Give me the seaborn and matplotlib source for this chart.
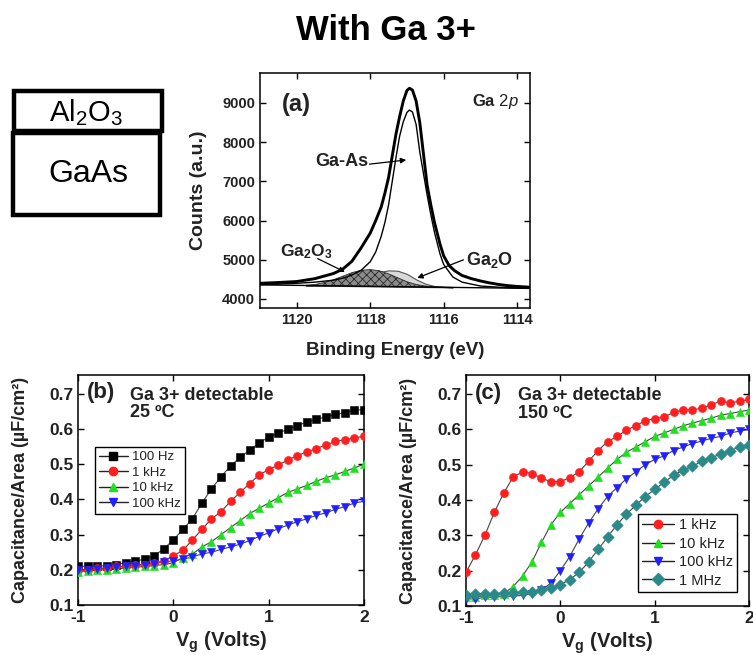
import numpy as np
import pandas as pd
import matplotlib
matplotlib.use("Agg")
import matplotlib.pyplot as plt
from matplotlib.lines import Line2D
from matplotlib.patches import Rectangle
import seaborn as sns

sns.set_style("ticks")
plt.rcParams['font.family'] = ['Liberation Sans', 'DejaVu Sans']
plt.rcParams['mathtext.fontset'] = 'custom'
plt.rcParams['mathtext.rm'] = 'Liberation Sans'
plt.rcParams['mathtext.it'] = 'Liberation Sans:italic'
plt.rcParams['mathtext.bf'] = 'Liberation Sans:bold'
plt.rcParams['hatch.linewidth'] = 0.6

TXT = '#222222'

# ---------------- Panel (a): XPS Ga 2p ----------------
env_E = [1121.0, 1120.5, 1120.0, 1119.5, 1119.0, 1118.75, 1118.5, 1118.25, 1118.0, 1117.85,
         1117.7, 1117.6, 1117.5, 1117.4, 1117.3, 1117.2, 1117.1, 1117.0, 1116.93, 1116.85,
         1116.75, 1116.65, 1116.55, 1116.45, 1116.35, 1116.25, 1116.1, 1116.0, 1115.85, 1115.7,
         1115.5, 1115.25, 1115.0, 1114.75, 1114.5, 1114.25, 1114.0, 1113.65]
env_C = [4400, 4420, 4445, 4520, 4650, 4760, 4960, 5300, 5680, 6000,
         6350, 6700, 7100, 7650, 8200, 8650, 9050, 9320, 9375, 9330,
         9050, 8500, 7700, 6900, 6400, 5950, 5400, 5100, 4850, 4720,
         4600, 4520, 4460, 4410, 4370, 4340, 4320, 4300]

gaas_E = [1121.0, 1120.5, 1120.0, 1119.5, 1119.0, 1118.75, 1118.5, 1118.25, 1118.0, 1117.85,
          1117.7, 1117.6, 1117.5, 1117.4, 1117.3, 1117.2, 1117.1, 1117.0, 1116.93, 1116.85,
          1116.75, 1116.65, 1116.55, 1116.45, 1116.35, 1116.25, 1116.1, 1116.0, 1115.75, 1115.5,
          1115.0, 1114.5, 1114.0, 1113.65]
gaas_C = [4365, 4380, 4400, 4430, 4480, 4530, 4610, 4730, 4950, 5200,
          5600, 5950, 6400, 7000, 7600, 8150, 8520, 8760, 8820, 8770,
          8450, 7750, 7200, 6650, 6150, 5700, 5150, 4880, 4560, 4430,
          4330, 4300, 4285, 4275]

comp_E = [1119.75, 1119.5, 1119.25, 1119.0, 1118.75, 1118.5, 1118.25, 1118.0, 1117.75,
          1117.5, 1117.25, 1117.0, 1116.75, 1116.5, 1116.25, 1116.0, 1115.75]
comp_bg = [4345, 4342, 4339, 4336, 4332, 4329, 4326, 4323, 4320,
           4317, 4314, 4311, 4308, 4305, 4302, 4299, 4296]
ga2o3_C = [4350, 4370, 4420, 4490, 4580, 4670, 4735, 4750, 4720,
           4640, 4540, 4440, 4370, 4330, 4310, 4300, 4296]
ga2o_C = [4345, 4342, 4345, 4360, 4390, 4440, 4520, 4610, 4690,
          4730, 4720, 4640, 4500, 4390, 4330, 4305, 4296]

bg_E = [1121.0, 1113.65]
bg_C = [4360, 4270]

# ---------------- Panels (b), (c): C-V ----------------
vg = [round(-1 + 0.1 * i, 1) for i in range(31)]

b_100Hz = [0.210, 0.210, 0.210, 0.212, 0.215, 0.220, 0.225, 0.230, 0.240, 0.260,
           0.285, 0.315, 0.345, 0.390, 0.430, 0.465, 0.495, 0.520, 0.540, 0.560,
           0.578, 0.588, 0.600, 0.610, 0.620, 0.628, 0.635, 0.642, 0.647, 0.655, 0.655]
b_1kHz = [0.200, 0.200, 0.205, 0.205, 0.210, 0.210, 0.215, 0.215, 0.220, 0.225,
          0.240, 0.255, 0.285, 0.315, 0.345, 0.365, 0.395, 0.420, 0.445, 0.470,
          0.485, 0.498, 0.512, 0.525, 0.535, 0.545, 0.555, 0.565, 0.570, 0.575, 0.580]
b_10kHz = [0.195, 0.198, 0.200, 0.200, 0.203, 0.205, 0.207, 0.210, 0.212, 0.215,
           0.220, 0.235, 0.245, 0.265, 0.280, 0.300, 0.320, 0.340, 0.360, 0.375,
           0.390, 0.405, 0.420, 0.430, 0.440, 0.452, 0.462, 0.470, 0.480, 0.490, 0.500]
b_100kHz = [0.200, 0.200, 0.203, 0.205, 0.207, 0.210, 0.212, 0.215, 0.218, 0.222,
            0.226, 0.230, 0.237, 0.245, 0.250, 0.258, 0.265, 0.273, 0.283, 0.295,
            0.305, 0.317, 0.327, 0.337, 0.345, 0.355, 0.362, 0.372, 0.380, 0.390, 0.395]

c_1kHz = [0.195, 0.245, 0.300, 0.365, 0.420, 0.465, 0.480, 0.475, 0.462, 0.452,
          0.452, 0.463, 0.480, 0.510, 0.540, 0.565, 0.580, 0.598, 0.610, 0.625,
          0.630, 0.635, 0.648, 0.655, 0.655, 0.660, 0.670, 0.680, 0.675, 0.680, 0.685]
c_10kHz = [0.125, 0.125, 0.130, 0.130, 0.135, 0.155, 0.185, 0.225, 0.280, 0.330,
           0.365, 0.390, 0.415, 0.440, 0.465, 0.490, 0.515, 0.535, 0.550, 0.565,
           0.580, 0.590, 0.600, 0.610, 0.618, 0.625, 0.632, 0.640, 0.645, 0.650, 0.655]
c_100kHz = [0.120, 0.120, 0.125, 0.125, 0.127, 0.128, 0.130, 0.135, 0.145, 0.165,
            0.200, 0.240, 0.290, 0.335, 0.375, 0.410, 0.435, 0.460, 0.480, 0.500,
            0.515, 0.525, 0.540, 0.550, 0.560, 0.567, 0.575, 0.580, 0.590, 0.595, 0.600]
c_1MHz = [0.130, 0.133, 0.135, 0.135, 0.137, 0.138, 0.140, 0.140, 0.145, 0.150,
          0.160, 0.175, 0.195, 0.225, 0.260, 0.295, 0.330, 0.360, 0.385, 0.410,
          0.430, 0.450, 0.470, 0.485, 0.495, 0.510, 0.520, 0.530, 0.540, 0.550, 0.555]

b_labels = ['100 Hz', '1 kHz', '10 kHz', '100 kHz']
c_labels = ['1 kHz', '10 kHz', '100 kHz', '1 MHz']
vticks = [-1, 0, 1, 2]
cticks = [0.1, 0.2, 0.3, 0.4, 0.5, 0.6, 0.7]

# ---------------- figure ----------------
W, H = 753, 655
fig = plt.figure(figsize=(W / 100, H / 100), dpi=100)

def px_axes(l, t, r, b):
    return fig.add_axes([l / W, 1 - b / H, (r - l) / W, (b - t) / H])

# overlay for title and layer sketch
ov = fig.add_axes([0, 0, 1, 1])
ov.set_xlim(0, W)
ov.set_ylim(H, 0)
ov.axis('off')
ov.text(386, 30, 'With Ga 3+', ha='center', va='center', fontsize=25, fontweight='bold', color='black')
ov.add_patch(Rectangle((14, 91), 148, 40, fill=False, lw=3.2, ec='black'))
ov.add_patch(Rectangle((13, 133), 147, 82, fill=False, lw=3.2, ec='black'))
ov.text(86, 113, r'Al$_2$O$_3$', ha='center', va='center', fontsize=21, color='black')
ov.text(88, 174, 'GaAs', ha='center', va='center', fontsize=23, color='black')

def style_axes(ax, fs):
    ax.tick_params(direction='in', top=True, right=True, length=4, width=1,
                   labelsize=fs, colors='black', labelcolor=TXT)
    for lab in ax.get_xticklabels() + ax.get_yticklabels():
        lab.set_fontweight('bold')
    for s in ax.spines.values():
        s.set_linewidth(1.1)
        s.set_color('black')
        s.set_visible(True)

# ---- panel (a)
axa = px_axes(260, 73, 530, 308)
axa.fill_between(comp_E, ga2o_C, comp_bg, facecolor='#d9d9d9', edgecolor='#555555', lw=0.8, zorder=2)
axa.fill_between(comp_E, ga2o3_C, comp_bg, facecolor='#8c8c8c', edgecolor='#2a2a2a', hatch='xxxx',
                 lw=0.6, zorder=3)
sns.lineplot(x=bg_E, y=bg_C, ax=axa, color='black', lw=1.0, zorder=4)
sns.lineplot(x=gaas_E, y=gaas_C, ax=axa, color='black', lw=1.0, zorder=5)
sns.lineplot(x=env_E, y=env_C, ax=axa, color='black', lw=2.1, zorder=6)
axa.set_xlim(1121.0, 1113.65)
axa.set_ylim(3770, 9765)
axa.set_xticks([1120, 1118, 1116, 1114])
axa.set_yticks([4000, 5000, 6000, 7000, 8000, 9000])
style_axes(axa, 10.5)
axa.set_xlabel('Binding Energy (eV)', fontsize=13.5, fontweight='bold', color=TXT, labelpad=11)
axa.set_ylabel('Counts (a.u.)', fontsize=14, fontweight='bold', color=TXT, labelpad=11)
axa.text(0.133, 0.868, '(a)', transform=axa.transAxes, fontsize=17, fontweight='bold',
         color=TXT, ha='center', va='center')
axa.text(0.87, 0.877, r'Ga $\mathit{2p}$', transform=axa.transAxes, fontsize=12, fontweight='bold',
         color=TXT, ha='center', va='center')
arrow = dict(arrowstyle='-|>', color='black', lw=0.9, mutation_scale=8, shrinkA=0, shrinkB=0)
# labels
axa.text(1118.04, 7390, 'Ga-As', fontsize=13, fontweight='bold', color=TXT, ha='right',
         va='baseline', zorder=8)
axa.annotate('', xy=(1117.02, 7546), xytext=(1118.02, 7440), arrowprops=arrow, zorder=8)
axa.text(1119.75, 5200, r'Ga$_{\mathbf{2}}$O$_{\mathbf{3}}$', fontsize=12.5, fontweight='bold',
         color=TXT, ha='center', va='center', zorder=8)
axa.annotate('', xy=(1118.69, 4689), xytext=(1119.43, 5030), arrowprops=arrow, zorder=8)
axa.text(1115.4, 5000, r'Ga$_{\mathbf{2}}$O', fontsize=13, fontweight='bold', color=TXT,
         ha='left', va='center', zorder=8)
axa.annotate('', xy=(1116.72, 4536), xytext=(1115.46, 5000), arrowprops=arrow, zorder=8)

# ---- panels (b), (c)
def cv_panel(ax, series, labels, markers, colors, panel, temp, legend_anchor, legend_loc,
             leg_fs, leg_sp):
    handles = []
    for vals, lab, m, c in zip(series, labels, markers, colors):
        df = pd.DataFrame({'Vg': vg, 'C': vals})
        sns.lineplot(data=df, x='Vg', y='C', ax=ax, color='#444444', lw=0.8, zorder=2)
        sns.scatterplot(data=df, x='Vg', y='C', ax=ax, marker=m, color=c, s=34,
                        edgecolor=c, linewidth=0.4, zorder=3)
        handles.append(Line2D([], [], color='#222222', lw=1.0, marker=m, markersize=6,
                              markerfacecolor=c, markeredgecolor=c, label=lab))
    ax.set_xlim(-1, 2)
    ax.set_ylim(0.1, 0.754)
    ax.set_xticks(vticks)
    ax.set_yticks(cticks)
    ax.set_xticklabels([str(v) for v in vticks])
    ax.set_yticklabels([f'{v:.1f}' for v in cticks])
    style_axes(ax, 12.5)
    ax.set_xlabel(r'V$_{\mathbf{g}}$ (Volts)', fontsize=14.5, fontweight='bold', color=TXT, labelpad=3)
    ax.set_ylabel('Capacitance/Area (µF/cm²)', fontsize=13, fontweight='bold', color=TXT, labelpad=14)
    ax.text(0.08, 0.922, panel, transform=ax.transAxes, fontsize=16, fontweight='bold',
            color=TXT, ha='center', va='center')
    ax.text(0.183, 0.912, 'Ga 3+ detectable', transform=ax.transAxes, fontsize=13,
            fontweight='bold', color=TXT, ha='left', va='center')
    ax.text(0.183, 0.835, temp, transform=ax.transAxes, fontsize=13,
            fontweight='bold', color=TXT, ha='left', va='center')
    leg = ax.legend(handles=handles, loc=legend_loc, bbox_to_anchor=legend_anchor,
                    fontsize=leg_fs, frameon=True, fancybox=False, framealpha=1,
                    edgecolor='black', handlelength=2.2, handletextpad=0.3,
                    labelspacing=leg_sp, borderpad=0.3, borderaxespad=0)
    leg.get_frame().set_linewidth(1.0)
    for t in leg.get_texts():
        t.set_color(TXT)

axb = px_axes(78, 375, 364, 605)
cv_panel(axb, [b_100Hz, b_1kHz, b_10kHz, b_100kHz], b_labels,
         ['s', 'o', '^', 'v'], ['#000000', '#ff1f1f', '#1fe01f', '#1f1fff'],
         '(b)', '25 ºC', (0.059, 0.687), 'upper left', 9.5, 0.25)

axc = px_axes(466, 375, 749, 606)
cv_panel(axc, [c_1kHz, c_10kHz, c_100kHz, c_1MHz], c_labels,
         ['o', '^', 'v', 'D'], ['#ff1f1f', '#1fe01f', '#1f1fff', '#2a8a8a'],
         '(c)', '150 ºC', (0.958, 0.061), 'lower right', 10.5, 0.3)

fig.savefig('out.png', dpi=100)
